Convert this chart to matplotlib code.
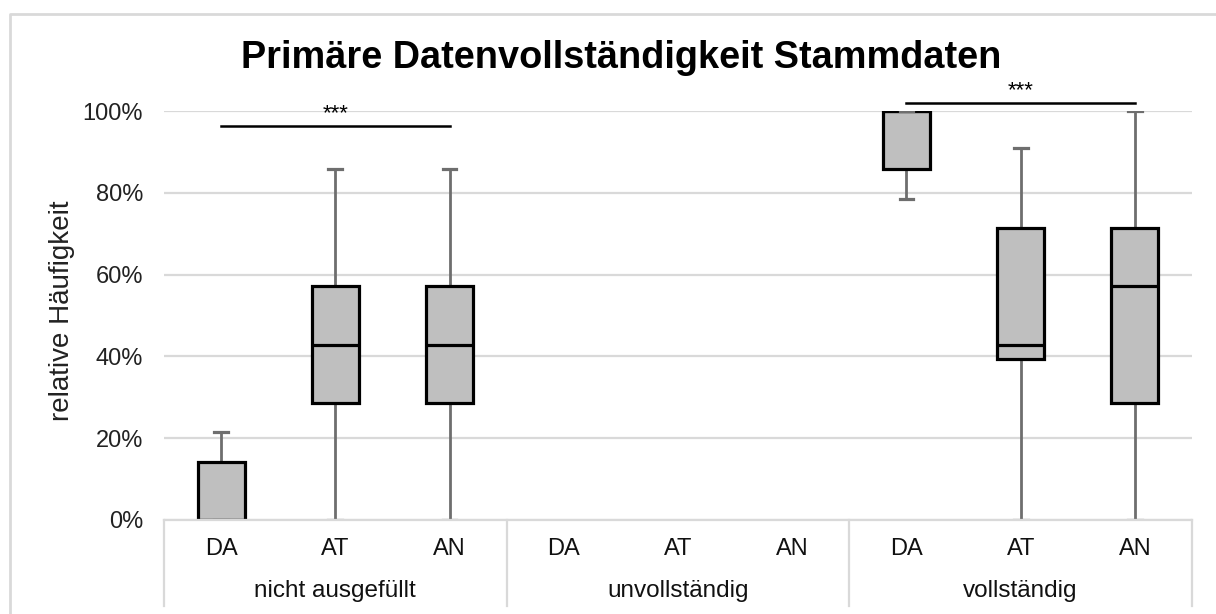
import matplotlib
matplotlib.use("Agg")
import matplotlib.pyplot as plt
from matplotlib.lines import Line2D
import matplotlib.transforms as mtransforms

plt.rcParams["font.family"] = ["Liberation Sans", "DejaVu Sans"]

# Data (relative frequencies in %)
groups = ["nicht ausgefüllt", "unvollständig", "vollständig"]
subgroups = ["DA", "AT", "AN"]

# five-number summaries per group, order DA, AT, AN (groups without data are skipped)
whislo = {"nicht ausgefüllt": [0.0, 0.0, 0.0],
          "vollständig": [78.6, 0.0, 0.0]}
q1 = {"nicht ausgefüllt": [0.0, 28.6, 28.6],
      "vollständig": [85.7, 39.3, 28.6]}
med = {"nicht ausgefüllt": [0.0, 42.9, 42.9],
       "vollständig": [100.0, 42.9, 57.1]}
q3 = {"nicht ausgefüllt": [14.3, 57.1, 57.1],
      "vollständig": [100.0, 71.4, 71.4]}
whishi = {"nicht ausgefüllt": [21.4, 85.7, 85.7],
          "vollständig": [100.0, 90.9, 100.0]}

sig_groups = ["nicht ausgefüllt", "vollständig"]
sig_levels = [96.4, 102.0]
sig_text = "***"

yticks = [0, 20, 40, 60, 80, 100]

W, H = 1216, 614
fig = plt.figure(figsize=(W / 100, H / 100), dpi=100)
ax = fig.add_axes([164 / W, 1 - 520 / H, (1192 - 164) / W, (520 - 111) / H])

grid_c = "#D9D9D9"
fill_c = "#BFBFBF"
whisk_c = "#6E6E6E"

stats, positions = [], []
for gi, g in enumerate(groups):
    if g not in q1:
        continue
    for si in range(len(subgroups)):
        stats.append(dict(whislo=whislo[g][si], q1=q1[g][si], med=med[g][si],
                          q3=q3[g][si], whishi=whishi[g][si], fliers=[]))
        positions.append(gi * 3 + si)

bp = ax.bxp(stats, positions=positions, widths=0.41, patch_artist=True,
            showfliers=False, manage_ticks=False,
            boxprops=dict(facecolor=fill_c, edgecolor="black", linewidth=2.3),
            medianprops=dict(color="black", linewidth=2.3),
            whiskerprops=dict(color=whisk_c, linewidth=2.0),
            capprops=dict(color=whisk_c, linewidth=2.3),
            capwidths=0.12)
for c in bp["caps"]:
    c.set_zorder(4)
for b in bp["boxes"]:
    b.set_zorder(3)
for m in bp["medians"]:
    m.set_zorder(3.5)

ax.set_xlim(-0.5, 8.5)
ax.set_ylim(0, 100)
ax.set_yticks(yticks)
ax.set_yticklabels([f"{v}%" for v in yticks])
ax.yaxis.grid(True, color=grid_c, linewidth=1.6)
ax.set_axisbelow(True)
for s in ["top", "right", "left"]:
    ax.spines[s].set_visible(False)
ax.spines["bottom"].set_color(grid_c)
ax.spines["bottom"].set_linewidth(1.6)
ax.spines["bottom"].set_zorder(5)
ax.tick_params(axis="y", length=0, pad=15, labelsize=17, labelcolor="#222222")

ax.set_xticks(range(len(groups) * len(subgroups)))
ax.set_xticklabels(subgroups * len(groups))
ax.tick_params(axis="x", length=0, pad=13, labelsize=17, labelcolor="#111111")

trans = mtransforms.blended_transform_factory(ax.transData, ax.transAxes)
depth = (606 - 520) / (520 - 111)
for xb in [-0.5, 2.5, 5.5, 8.5]:
    ax.add_line(Line2D([xb, xb], [0, -depth], transform=trans, color=grid_c,
                       linewidth=1.6, clip_on=False))
for gi, g in enumerate(groups):
    ax.text(gi * 3 + 1, -(591 - 520) / (520 - 111), g, transform=trans,
            ha="center", va="center", fontsize=17.5, color="#111111")

# significance bars
for g, lvl in zip(sig_groups, sig_levels):
    gi = groups.index(g)
    ax.plot([gi * 3, gi * 3 + 2], [lvl, lvl], color="black", linewidth=1.8,
            clip_on=False, zorder=6)
    ax.text(gi * 3 + 1, lvl + 0.3, sig_text, ha="center", va="bottom",
            fontsize=16, color="black", clip_on=False)

fig.text(62 / W, 1 - 311 / H, "relative Häufigkeit", rotation=90,
         ha="center", va="center", fontsize=20, color="#222222")
fig.text(621 / W, 1 - 58 / H, "Primäre Datenvollständigkeit Stammdaten",
         ha="center", va="center", fontsize=27.3, fontweight="bold")

# chart-area frame
fig.add_artist(Line2D([10 / W, 10 / W, 1.0], [0.0, 1 - 14 / H, 1 - 14 / H],
                      transform=fig.transFigure, color=grid_c, linewidth=2.0))

fig.savefig("out.png", dpi=100)
